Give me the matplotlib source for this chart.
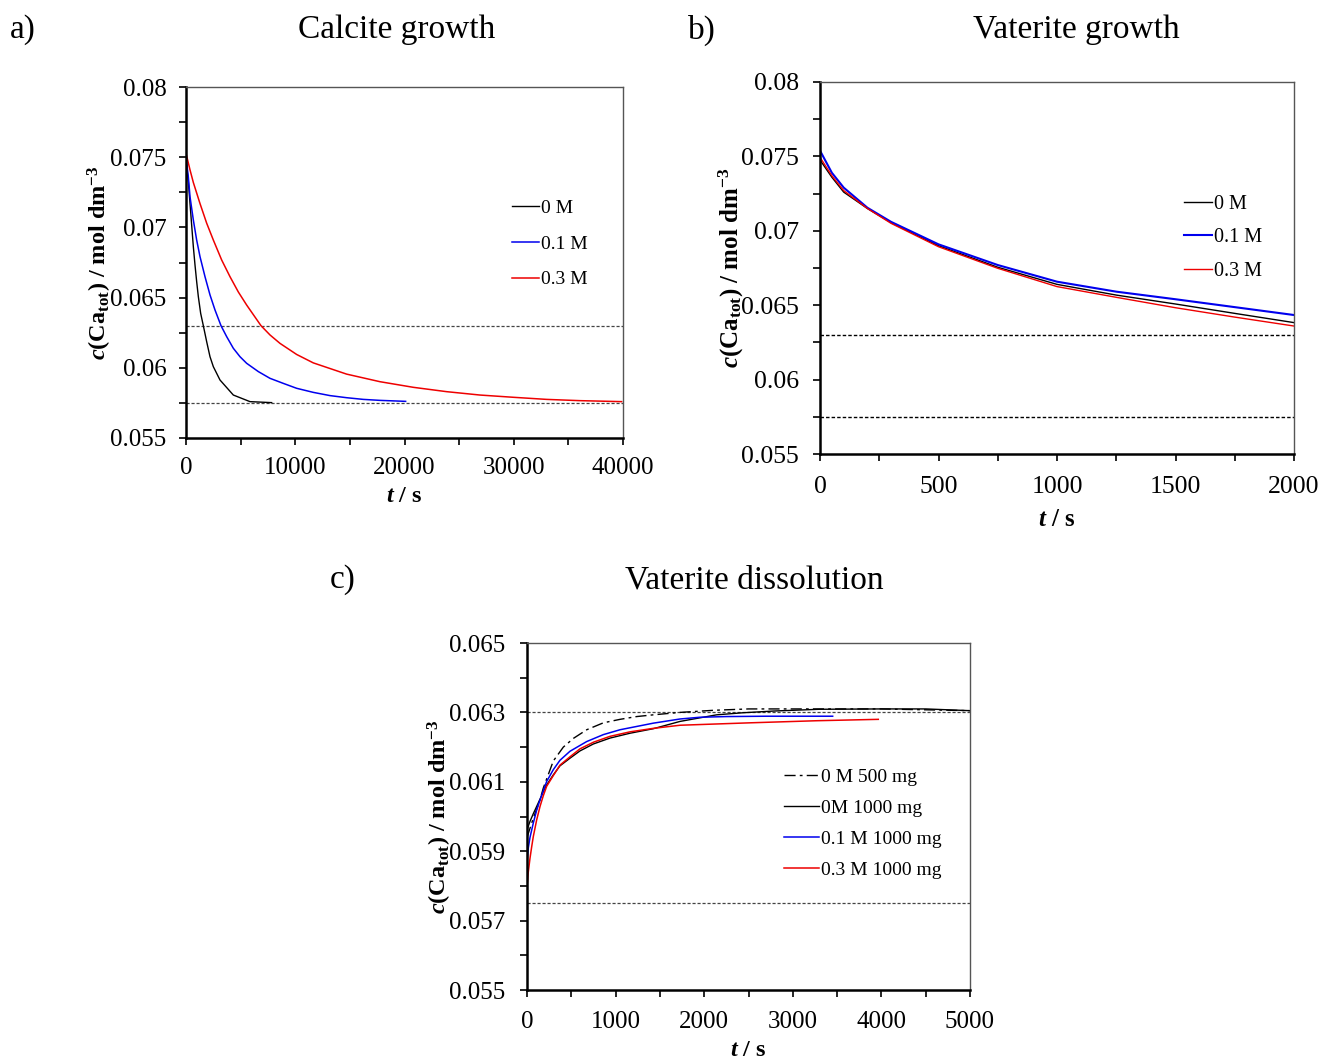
import matplotlib
matplotlib.use("Agg")
import matplotlib.pyplot as plt
from matplotlib.ticker import MultipleLocator, FixedLocator, FormatStrFormatter

plt.rcParams['font.family'] = ['Liberation Serif', 'DejaVu Serif']
plt.rcParams['mathtext.fontset'] = 'custom'
plt.rcParams['mathtext.rm'] = 'Liberation Serif'
plt.rcParams['mathtext.it'] = 'Liberation Serif:italic'
plt.rcParams['mathtext.bf'] = 'Liberation Serif:bold'
plt.rcParams['mathtext.bfit'] = 'Liberation Serif:bold:italic'

# ---------------- data ----------------
ref_levels = [0.063, 0.0575]

# a) Calcite growth
a_t_0M = [0, 213, 366, 518, 671, 824, 976, 1129, 1342, 1586, 1892, 2197, 2502, 3112, 4332, 5858, 7840]
a_c_0M = [0.0748, 0.07326, 0.07171, 0.07017, 0.06863, 0.06732, 0.06614, 0.06507, 0.06388, 0.0630,
          0.06186, 0.06079, 0.06008, 0.05913, 0.05806, 0.05759, 0.05752]
a_t_01M = [0, 213, 366, 671, 976, 1281, 1739, 2197, 2654, 3203, 3722, 4332, 4942, 5552, 6620, 7688,
           8908, 10128, 11652, 13178, 14703, 16229, 17754, 20103]
a_c_01M = [0.0750, 0.0736, 0.07219, 0.07053, 0.0691, 0.06792, 0.06649, 0.06519, 0.06412, 0.0630,
           0.06222, 0.06139, 0.06079, 0.06032, 0.05973, 0.05925, 0.05889, 0.05854, 0.05825, 0.05802,
           0.05787, 0.05775, 0.05768, 0.05761]
a_t_03M = [0, 366, 671, 1281, 1892, 2502, 3264, 4027, 4790, 5552, 6864, 7688, 8603, 10128, 11652, 14703,
           17754, 20805, 23856, 26907, 29958, 33010, 36061, 39875]
a_c_03M = [0.07528, 0.0741, 0.0732, 0.0717, 0.0703, 0.0691, 0.06768, 0.06649, 0.0654, 0.06447,
           0.0630, 0.06234, 0.06174, 0.06095, 0.06035, 0.05955, 0.05901, 0.05861, 0.0583, 0.05806,
           0.0579, 0.05775, 0.05766, 0.05759]

# b) Vaterite growth
b_t = [0, 50, 100, 200, 300, 500, 750, 1000, 1250, 1500, 1750, 2000]
b_c_0M = [0.07476, 0.0736, 0.0726, 0.0715, 0.07055, 0.0690, 0.06755, 0.0664, 0.06568, 0.06508, 0.06445, 0.06383]
b_c_01M = [0.07539, 0.0739, 0.0729, 0.07155, 0.0706, 0.06909, 0.0677, 0.06658, 0.06591, 0.0654, 0.06487, 0.06434]
b_c_03M = [0.07494, 0.0737, 0.0727, 0.0715, 0.0705, 0.06893, 0.06748, 0.06625, 0.06553, 0.06483, 0.0642, 0.0636]

# c) Vaterite dissolution
c_t_0M500 = [0, 71, 147, 184, 297, 410, 523, 674, 862, 1050, 1238, 1426, 1727, 2100, 2500, 3000, 4000, 5000]
c_c_0M500 = [0.0594, 0.05995, 0.06048, 0.06082, 0.0616, 0.0620, 0.06225, 0.0625, 0.0627, 0.0628,
             0.06288, 0.06293, 0.06300, 0.06306, 0.0631, 0.0631, 0.0631, 0.06305]
c_t_0M1000 = [0, 34, 71, 109, 147, 184, 222, 297, 372, 485, 598, 749, 937, 1163, 1426, 1727, 2140, 2440,
              2790, 3300, 4000, 4500, 5000]
c_c_0M1000 = [0.05962, 0.05986, 0.06008, 0.06029, 0.0605, 0.06072, 0.06091, 0.0612, 0.06146, 0.06168,
              0.06189, 0.06209, 0.06226, 0.0624, 0.06253, 0.06274, 0.06293, 0.06299, 0.06304, 0.06309,
              0.0631, 0.0631, 0.06305]
c_t_01M = [0, 15, 34, 71, 109, 147, 222, 297, 372, 485, 674, 862, 1050, 1426, 1727, 1950, 2250, 2700, 3450]
c_c_01M = [0.0587, 0.0591, 0.0594, 0.05981, 0.06018, 0.06048, 0.06101, 0.06135, 0.06162, 0.06188,
           0.06216, 0.06236, 0.0625, 0.06269, 0.06281, 0.06286, 0.06288, 0.06289, 0.06289]
c_t_03M = [0, 15, 34, 53, 71, 109, 147, 184, 222, 297, 372, 485, 598, 749, 937, 1163, 1426, 1727, 2520,
           3270, 3965]
c_c_03M = [0.05798, 0.05841, 0.0588, 0.05913, 0.05942, 0.0599, 0.06029, 0.0606, 0.06087, 0.06118,
           0.06148, 0.06172, 0.06195, 0.06214, 0.06231, 0.06244, 0.06254, 0.06263, 0.0627, 0.06276, 0.0628]

labels_ab = ['0 M', '0.1 M', '0.3 M']
labels_c = ['0 M 500 mg', '0M 1000 mg', '0.1 M 1000 mg', '0.3 M 1000 mg']

a_yticks = [0.055, 0.06, 0.065, 0.07, 0.075, 0.08]
c_yticks = [0.055, 0.057, 0.059, 0.061, 0.063, 0.065]

# ---------------- figure ----------------
fig = plt.figure(figsize=(13.33, 10.62), dpi=100)
W, H = 1333, 1062

def make_ax(l, r, t, b):
    return fig.add_axes([l / W, 1 - b / H, (r - l) / W, (b - t) / H])

axA = make_ax(186, 623, 87, 438)
axB = make_ax(820, 1294, 82, 454)
axC = make_ax(527, 970, 643, 990)

ylab = r'$\mathbfit{c}$(Ca$_{\mathbf{tot}}$) / mol dm$^{\mathbf{-3}}$'
xlab = r'$\mathbfit{t}$ / s'

def style(ax, xmaj, xmin, yticks, ymin, fs, xpad, ypad, xlpad, ylpad, lfs):
    ax.xaxis.set_major_locator(MultipleLocator(xmaj))
    ax.xaxis.set_minor_locator(MultipleLocator(xmin))
    ax.yaxis.set_major_locator(FixedLocator(yticks))
    ax.yaxis.set_minor_locator(MultipleLocator(ymin))
    ax.yaxis.set_major_formatter(FormatStrFormatter('%g'))
    ax.xaxis.set_major_formatter(FormatStrFormatter('%g'))
    ax.tick_params(which='both', direction='out', length=5, width=1.2, labelsize=fs,
                   top=False, right=False)
    ax.tick_params(axis='x', which='major', pad=xpad)
    ax.tick_params(axis='y', which='major', pad=ypad)
    ax.spines['left'].set_linewidth(1.8)
    ax.spines['bottom'].set_linewidth(1.8)
    for s in ('top', 'right'):
        ax.spines[s].set_linewidth(1.0)
        ax.spines[s].set_color('#555555')
    ax.set_xlabel(xlab, fontsize=lfs, fontweight='bold', labelpad=xlpad)
    ax.set_ylabel(ylab, fontsize=lfs, fontweight='bold', labelpad=ylpad)

# Panel a
for lv in ref_levels:
    axA.axhline(lv, color='#444444', lw=0.9, ls=(0, (2.5, 1.5)))
axA.plot(a_t_0M, a_c_0M, color='black', lw=1.0, label=labels_ab[0])
axA.plot(a_t_01M, a_c_01M, color='#0000ee', lw=1.1, label=labels_ab[1])
axA.plot(a_t_03M, a_c_03M, color='#ee0000', lw=1.1, label=labels_ab[2])
axA.set_xlim(0, 40000)
axA.set_ylim(0.055, 0.08)
style(axA, 10000, 5000, a_yticks, 0.0025, 18, 9, 9, 5, -3, 17.5)
axA.legend(loc='upper left', bbox_to_anchor=(0.746, 0.68), frameon=False, fontsize=14,
           handlelength=1.4, handletextpad=0.1, labelspacing=0.93, borderpad=0, borderaxespad=0)

# Panel b
for lv in ref_levels:
    axB.axhline(lv, color='black', lw=1.0, ls=(0, (2.5, 1.5)))
axB.plot(b_t, b_c_0M, color='black', lw=1.0, label=labels_ab[0])
axB.plot(b_t, b_c_01M, color='#0000ee', lw=1.5, label=labels_ab[1])
axB.plot(b_t, b_c_03M, color='#ee0000', lw=1.0, label=labels_ab[2])
axB.set_xlim(0, 2000)
axB.set_ylim(0.055, 0.08)
style(axB, 500, 250, a_yticks, 0.0025, 18.5, 11, 10, 7, -3.5, 18)
axB.legend(loc='upper left', bbox_to_anchor=(0.768, 0.697), frameon=False, fontsize=14.5,
           handlelength=1.4, handletextpad=0.1, labelspacing=0.72, borderpad=0, borderaxespad=0)

# Panel c
for lv in ref_levels:
    axC.axhline(lv, color='#444444', lw=0.9, ls=(0, (2.5, 1.5)))
axC.plot(c_t_0M500, c_c_0M500, color='black', lw=1.0, ls=(0, (8, 3, 2, 3)), label=labels_c[0])
axC.plot(c_t_0M1000, c_c_0M1000, color='black', lw=1.0, label=labels_c[1])
axC.plot(c_t_01M, c_c_01M, color='#0000ee', lw=1.1, label=labels_c[2])
axC.plot(c_t_03M, c_c_03M, color='#ee0000', lw=1.1, label=labels_c[3])
axC.set_xlim(0, 5000)
axC.set_ylim(0.055, 0.065)
style(axC, 1000, 500, c_yticks, 0.001, 18, 10, 11, 5, -4, 17.5)
axC.legend(loc='upper left', bbox_to_anchor=(0.580, 0.64), frameon=False, fontsize=14,
           handlelength=1.8, handletextpad=0.1, labelspacing=0.7, borderpad=0, borderaxespad=0)

# Titles and panel letters
fs_t = 24
fig.text(10 / W, 1 - 30 / H, 'a)', fontsize=fs_t, va='center', ha='left')
fig.text(397 / W, 1 - 30 / H, 'Calcite growth', fontsize=fs_t, va='center', ha='center')
fig.text(688 / W, 1 - 30 / H, 'b)', fontsize=fs_t, va='center', ha='left')
fig.text(1076 / W, 1 - 30 / H, 'Vaterite growth', fontsize=fs_t, va='center', ha='center')
fig.text(330 / W, 1 - 580 / H, 'c)', fontsize=fs_t, va='center', ha='left')
fig.text(754 / W, 1 - 580 / H, 'Vaterite dissolution', fontsize=fs_t, va='center', ha='center')

fig.savefig('out.png', dpi=100)
